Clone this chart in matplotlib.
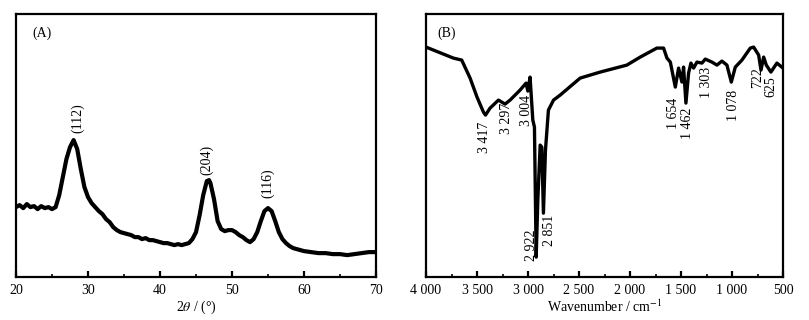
"""Two-panel figure: (A) XRD pattern, (B) FT-IR spectrum."""

import matplotlib
matplotlib.use("Agg")
import matplotlib.pyplot as plt
from matplotlib.ticker import MultipleLocator, FuncFormatter

plt.rcParams["font.family"] = ["Liberation Serif", "DejaVu Serif"]
plt.rcParams["mathtext.fontset"] = "stix"

# ---- (A) XRD, intensity in arbitrary units
XRD_2THETA = [20, 20.5, 21, 21.5, 22, 22.5, 23, 23.5, 24, 24.5, 25, 25.5,
              26, 26.5, 27, 27.5, 28, 28.5, 29, 29.5, 30, 30.5, 31, 31.5,
              32, 32.5, 33, 33.5, 34, 34.5, 35, 35.5, 36, 36.5, 37, 37.5,
              38, 38.5, 39, 39.5, 40, 40.5, 41, 41.5, 42, 42.5, 43, 43.5,
              44, 44.5, 45, 45.5, 46, 46.5, 46.8, 47, 47.5, 48, 48.5, 49,
              49.5, 50, 50.5, 51, 51.5, 52, 52.5, 53, 53.5, 54, 54.5, 55,
              55.5, 56, 56.5, 57, 57.5, 58, 58.5, 59, 59.5, 60, 61, 62, 63,
              64, 65, 66, 67, 68, 69, 70]
XRD_INT = [70, 72, 69, 73, 70, 71, 68, 71, 69, 70, 68, 70,
           82, 100, 118, 130, 137, 128, 108, 90, 80, 74, 70, 66,
           63, 58, 55, 50, 47, 45, 44, 43, 42, 40, 40, 38,
           39, 37, 37, 36, 35, 34, 34, 33, 32, 33, 32, 33,
           34, 38, 45, 62, 82, 96, 97, 94, 78, 56, 48, 46,
           47, 47, 45, 42, 40, 37, 35, 38, 45, 56, 66, 69,
           66, 56, 45, 38, 34, 31, 29, 28, 27, 26, 25, 24, 24,
           23, 23, 22, 23, 24, 25, 25]
XRD_PEAKS = ["(112)", "(204)", "(116)"]
XRD_PEAK_POS = [(28.5, 159), (46.5, 117), (54.9, 94)]

# ---- (B) FT-IR, transmittance in arbitrary units
IR_WN = [4000, 3732, 3650, 3568, 3500, 3437, 3417, 3372, 3290, 3225, 3176,
         3078, 3019, 3002, 2980, 2953, 2937, 2920, 2904, 2881, 2865, 2849,
         2829, 2800, 2750, 2685, 2489, 2293, 2031, 1900, 1737, 1671, 1638,
         1605, 1556, 1524, 1491, 1475, 1452, 1426, 1403, 1377, 1344, 1295,
         1262, 1197, 1148, 1099, 1050, 1007, 968, 903, 821, 788, 739, 716,
         690, 664, 619, 560, 500]
IR_T = [230, 219, 217, 199, 180, 165, 162, 169, 177, 173, 177,
        187, 194, 186, 200, 157, 150, 20, 77, 132, 130, 64,
        127, 167, 177, 182, 199, 205, 212, 220, 229, 229, 219,
        215, 190, 209, 195, 210, 174, 204, 214, 209, 215, 214,
        218, 215, 212, 216, 212, 195, 210, 217, 229, 230, 222, 207,
        220, 212, 205, 214, 209]
IR_LABELS = ["3 417", "3 297", "3 004", "2 922", "2 851", "1 654", "1 462",
             "1 303", "1 078", "722", "625"]
IR_LABEL_POS = [(3431, 140), (3215, 159), (3019, 167), (2970, 32),
                (2793, 47), (1576, 164), (1439, 154), (1252, 195),
                (987, 172), (752, 200), (624, 190)]

FS = 10


def thousands(v, _pos):
    v = int(round(v))
    return f"{v // 1000} {v % 1000:03d}" if v >= 1000 else str(v)


def style(ax):
    for s in ax.spines.values():
        s.set_linewidth(1.6)
    ax.tick_params(axis="x", which="both", direction="in", top=False,
                   labelsize=FS, pad=5)
    ax.tick_params(axis="x", which="major", length=4, width=1.6)
    ax.tick_params(axis="x", which="minor", length=2.5, width=1.2)
    ax.set_yticks([])


fig = plt.figure(figsize=(8.09, 3.2), dpi=100)
axA = fig.add_axes([0.0198, 0.134, 0.445, 0.822])
axB = fig.add_axes([0.5266, 0.134, 0.4413, 0.822])

# ---- panel A
axA.plot(XRD_2THETA, XRD_INT, color="black", lw=3.0)
axA.set_xlim(20, 70)
axA.set_ylim(0, 263)
axA.xaxis.set_major_locator(MultipleLocator(10))
axA.xaxis.set_minor_locator(MultipleLocator(5))
style(axA)
axA.set_xlabel(r"2$\it{\theta}$ / (°)", fontsize=FS, labelpad=1)
for lab, (x, y) in zip(XRD_PEAKS, XRD_PEAK_POS):
    axA.text(x, y, lab, rotation=90, ha="center", va="center", fontsize=FS)
axA.text(0.072, 0.928, "(A)", transform=axA.transAxes, fontsize=FS,
         ha="center", va="center")

# ---- panel B
axB.plot(IR_WN, IR_T, color="black", lw=2.4, solid_joinstyle="round")
axB.set_xlim(4000, 500)
axB.set_ylim(0, 263)
axB.xaxis.set_major_locator(MultipleLocator(500))
axB.xaxis.set_minor_locator(MultipleLocator(250))
axB.xaxis.set_major_formatter(FuncFormatter(thousands))
style(axB)
axB.set_xlabel(r"Wavenumber / cm$^{-1}$", fontsize=FS, labelpad=1)
for lab, (x, y) in zip(IR_LABELS, IR_LABEL_POS):
    axB.text(x, y, lab, rotation=90, ha="center", va="center", fontsize=FS)
axB.text(0.059, 0.928, "(B)", transform=axB.transAxes, fontsize=FS,
         ha="center", va="center")

fig.savefig("out.png", dpi=100)
